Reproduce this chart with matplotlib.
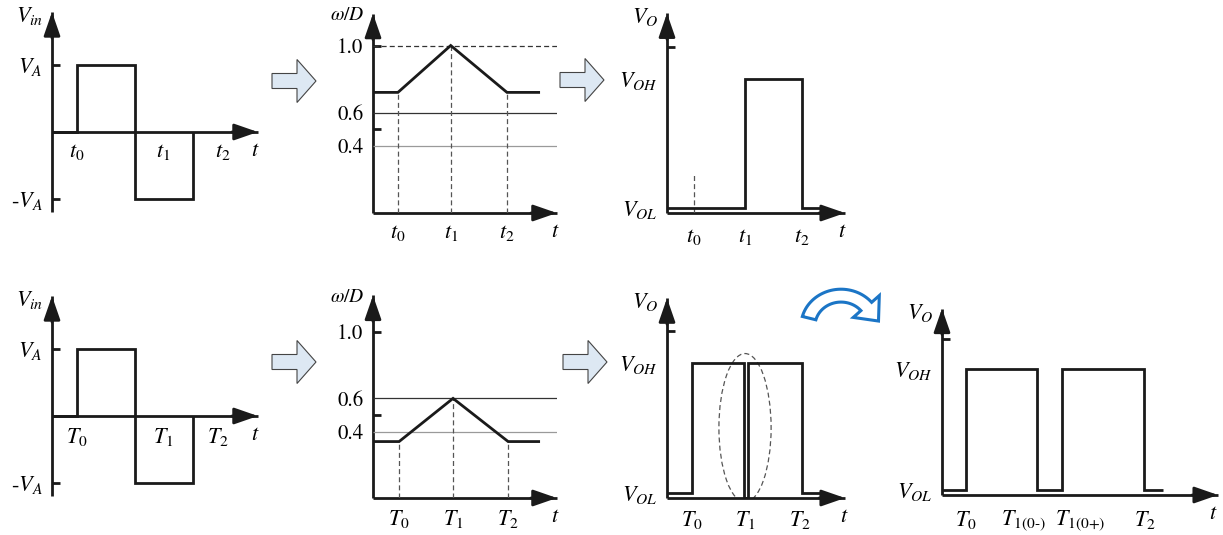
import numpy as np
import matplotlib
matplotlib.use("Agg")
import matplotlib.pyplot as plt
from matplotlib.patches import Ellipse, FancyArrow, Polygon

plt.rcParams["font.family"] = "STIXGeneral"
plt.rcParams["mathtext.fontset"] = "stix"

W, H = 1223, 535
INK = "#1a1a1a"
FS = 16

# time is in half-periods of the input square wave, levels are normalised
vin_edges = [0.0, 0.43, 1.43, 2.43]
vin_levels = [0, 1, -1, 0]
vin_tick_pos = [1.0, -1.0]
vin_tick_labels = ["$V_A$", "-$V_A$"]
vin_t_top = [0.43, 1.91, 2.95]
vin_t_bot = [0.43, 1.91, 2.86]
labels_t = ["$t_0$", "$t_1$", "$t_2$"]
labels_T = ["$T_0$", "$T_1$", "$T_2$"]

# omega/D for the two input amplitudes
wd_time_top = [0.0, 0.43, 1.34, 2.31, 2.88]
wd_value_top = [0.72, 0.72, 1.0, 0.72, 0.72]
wd_time_bot = [0.0, 0.45, 1.38, 2.33, 2.88]
wd_value_bot = [0.34, 0.34, 0.6, 0.34, 0.34]
wd_tick_pos = [1.0, 0.6, 0.4]
wd_tick_labels = ["1.0", "0.6", "0.4"]
wd_marks = [1.0, 0.5]
wd_threshold_hi = 0.6
wd_threshold_lo = 0.4

# comparator output
V_OH, V_OL = 1.0, 0.04
vo_tick_labels = ["$V_{OH}$", "$V_{OL}$"]
vo_marks = [1.24]
vo_edges_top = [0.0, 1.34, 2.33, 2.69]
vo_levels_top = [V_OL, V_OH, V_OL, V_OL]
vo_t_top = [0.47, 1.34, 2.33]
vo_edges_bot = [0.0, 0.43, 1.33, 1.39, 2.33, 2.69]
vo_levels_bot = [V_OL, V_OH, 0.0, V_OH, V_OL, V_OL]
vo_t_bot = [0.43, 1.35, 2.29]
vo_edges_zoom = [0.0, 0.41, 1.64, 2.07, 3.48, 3.81]
vo_levels_zoom = [V_OL, V_OH, V_OL, V_OH, V_OL, V_OL]
vo_t_zoom = [0.41, 1.40, 2.38, 3.50]
labels_zoom = ["$T_0$", r"$T_{1(0\text{-})}$", r"$T_{1(0\text{+})}$", "$T_2$"]

fig = plt.figure(figsize=(W / 100, H / 100), dpi=100)


def arrow(ax, start, end, back):
    # shaft as a plain line, filled head only over the last stretch
    ax.plot([start[0], end[0]], [start[1], end[1]], color=INK, lw=2.0,
            solid_capstyle="butt", clip_on=False)
    ax.annotate("", xy=end, xytext=back, annotation_clip=False,
                arrowprops=dict(arrowstyle="-|>,head_length=0.72,head_width=0.25",
                                mutation_scale=20, lw=2.0, color=INK,
                                shrinkA=0, shrinkB=0))


def signal(ax, x, y, step=True):
    kw = dict(color=INK, lw=2.0, solid_joinstyle="miter", solid_capstyle="butt")
    if step:
        ax.step(x, y, where="post", **kw)
    else:
        ax.plot(x, y, **kw)


def panel(ox, oy, sx, sy, x_end, y_low, y_top, name, t_pos, fs_name=FS):
    """Axes with data origin on pixel (ox, oy); sx, sy in px per unit."""
    x1 = ox + x_end * sx
    ytop_px = oy - y_top * sy
    ylow_px = oy - y_low * sy
    ax = fig.add_axes([ox / W, 1 - ylow_px / H, (x1 - ox) / W,
                       (ylow_px - ytop_px) / H])
    ax.set_xlim(0, x_end)
    ax.set_ylim(y_low, y_top)
    ax.patch.set_visible(False)
    for s in ax.spines.values():
        s.set_visible(False)
    ax.spines["bottom"].set_position(("data", 0))
    ax.spines["left"].set_position(("data", 0))
    ax.xaxis.remove_overlapping_locs = False
    ax.yaxis.remove_overlapping_locs = False
    ax.set_xticks([])
    ax.set_yticks([])
    arrow(ax, (0, 0), (x_end, 0), (x_end - 26 / sx, 0))
    arrow(ax, (0, y_low), (0, y_top), (0, y_top - 26 / sy))
    ax.annotate(name, xy=(0, y_top), xytext=(-9, 7), textcoords="offset pixels",
                ha="right", va="top", fontsize=fs_name, annotation_clip=False)
    ax.annotate("$t$", xy=(t_pos, 0), xytext=(0, -7), textcoords="offset points",
                ha="center", va="top", fontsize=FS, annotation_clip=False)
    return ax


def time_labels(ax, pos, labels, pad=7):
    ax.set_xticks(pos, labels)
    ax.tick_params(axis="x", length=0, pad=pad, labelsize=FS)


def level_labels(ax, pos, labels, marks, size=FS):
    ax.set_yticks(pos, labels)
    ax.tick_params(axis="y", length=0, pad=7, labelsize=size)
    ax.set_yticks(marks, minor=True)
    ax.tick_params(axis="y", which="minor", direction="in", length=6,
                   width=2, color=INK)


SX = 58.0

# input voltage
for oy, t_pos, labels in [(132, vin_t_top, labels_t), (416, vin_t_bot, labels_T)]:
    ax = panel(52, oy, SX, 67, 3.55, -1.19, 1.79, "$V_{in}$", 3.5)
    signal(ax, vin_edges, vin_levels)
    time_labels(ax, t_pos, labels)
    level_labels(ax, vin_tick_pos, vin_tick_labels, vin_tick_pos)

# omega / D
for oy, sy, tt, vv, labels, top in [(213, 167.5, wd_time_top, wd_value_top, labels_t, 1.19),
                                    (498, 166.0, wd_time_bot, wd_value_bot, labels_T, 1.22)]:
    ax = panel(373, oy, SX, sy, 3.17, 0, top, r"$\omega/D$", 3.14, fs_name=14)
    ax.hlines(wd_threshold_hi, 0, 3.17, color="#333333", lw=0.9)
    ax.hlines(wd_threshold_lo, 0, 3.17, color="#9a9a9a", lw=0.9)
    if max(vv) >= 1.0:
        ax.hlines(1.0, 0, 3.17, color="#333333", lw=0.9, linestyles=(0, (4, 2.5)))
    ax.vlines(tt[1:4], 0, vv[1:4], color="#555555", lw=0.9, linestyles=(0, (4, 2.5)))
    signal(ax, tt, vv, step=False)
    time_labels(ax, tt[1:4], labels)
    level_labels(ax, wd_tick_pos, wd_tick_labels, wd_marks, size=15)

# output, large input
ax = panel(667, 213, SX, 134, 3.07, 0, 1.49, "$V_O$", 3.03)
ax.vlines(vo_t_top[0], 0, 0.29, color="#555555", lw=0.9, linestyles=(0, (4, 2.5)))
signal(ax, vo_edges_top, vo_levels_top)
time_labels(ax, vo_t_top, labels_t, pad=10)
level_labels(ax, [V_OH, V_OL], vo_tick_labels, vo_marks)

# output, small input
ax = panel(667, 498, SX, 135, 3.07, 0, 1.48, "$V_O$", 3.05)
signal(ax, vo_edges_bot, vo_levels_bot)
ax.add_patch(Ellipse((1.345, 0.52), 0.9, 1.10, fill=False, ec="#555555",
                     lw=0.9, ls=(0, (4, 2.5))))
time_labels(ax, vo_t_bot, labels_T, pad=8)
level_labels(ax, [V_OH, V_OL], vo_tick_labels, vo_marks)

# output, glitch at T1 expanded
ax = panel(942, 495, SX, 126, 4.76, 0, 1.48, "$V_O$", 4.67)
signal(ax, vo_edges_zoom, vo_levels_zoom)
time_labels(ax, vo_t_zoom, labels_zoom, pad=10)
level_labels(ax, [V_OH, V_OL], vo_tick_labels, vo_marks)

# connecting arrows, drawn on a pixel-space overlay
ov = fig.add_axes([0, 0, 1, 1], zorder=-1)
ov.set_xlim(0, W)
ov.set_ylim(H, 0)
ov.axis("off")
for x, y in [(272, 81), (560, 80), (272, 362), (563, 362)]:
    ov.add_patch(FancyArrow(x, y, 44, 0, width=15, head_width=43, head_length=19,
                            length_includes_head=True, fc="#dde8f3", ec="#444444",
                            lw=0.8))

# curved blue arrow, slightly flattened arc
cx, cy, r_out, r_in, squash = 841, 326, 40, 26, 0.92
th = np.radians(np.linspace(165, 40, 40))
outer = np.column_stack([cx + r_out * np.cos(th), cy - squash * r_out * np.sin(th)])
inner = np.column_stack([cx + r_in * np.cos(th[::-1]),
                         cy - squash * r_in * np.sin(th[::-1])])
te = np.radians(40)
r_mid = (r_out + r_in) / 2
radial = np.array([np.cos(te), -np.sin(te)])
tangent = np.array([np.sin(te), np.cos(te)])
mid = np.array([cx + r_mid * np.cos(te), cy - squash * r_mid * np.sin(te)])
head = np.array([mid + 17 * radial, mid + 19 * tangent, mid - 17 * radial])
shape = np.vstack([outer, head, inner])
ov.add_patch(Polygon(shape, closed=True, fc="white", ec="#1b75c6", lw=2.2,
                     joinstyle="miter"))

fig.savefig("out.png", dpi=100)
